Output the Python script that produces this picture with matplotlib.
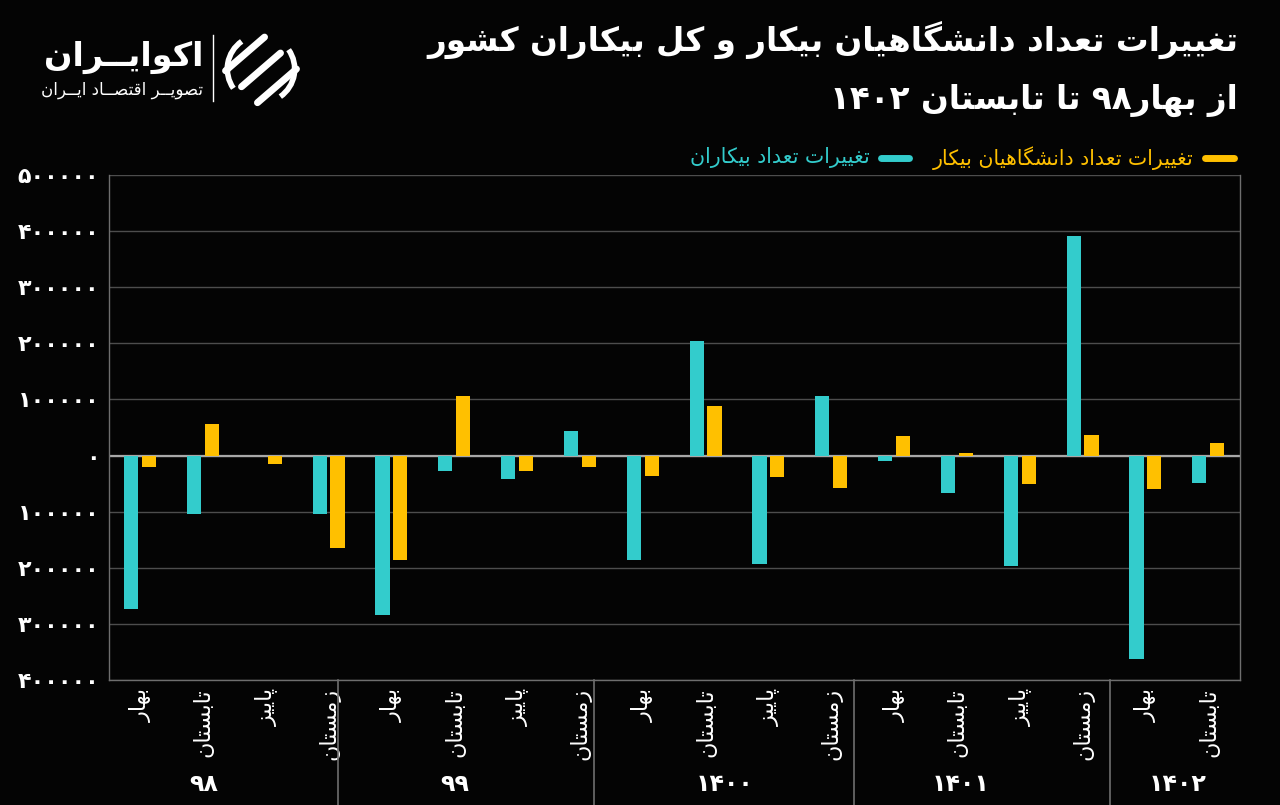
import matplotlib
matplotlib.use('Agg')
import matplotlib.pyplot as plt
from matplotlib.lines import Line2D
from matplotlib.ticker import FuncFormatter, MultipleLocator
from matplotlib.patches import Arc
import matplotlib.transforms as mtransforms
import numpy as np

# ---------------- data ----------------
seasons = ['بهار', 'تابستان', 'پاییز', 'زمستان'] * 4 + ['بهار', 'تابستان']
years = ['۹۸', '۹۹', '۱۴۰۰', '۱۴۰۱', '۱۴۰۲']
year_sizes = [4, 4, 4, 4, 2]
unemployed_change = [-273000, -105000, -1500, -104000, -284000, -28000, -42000, 43000,
                     -186000, 205000, -194000, 106000, -9500, -66000, -197000, 391000,
                     -363000, -49000]
graduates_change = [-20000, 57000, -15000, -164000, -186000, 107000, -28000, -20000,
                    -37000, 89000, -38000, -57000, 34000, 4000, -50000, 36000,
                    -59000, 23000]
title_line1 = 'تغییرات تعداد دانشگاهیان بیکار و کل بیکاران کشور'
title_line2 = 'از بهار۹۸ تا تابستان ۱۴۰۲'
label_graduates = 'تغییرات تعداد دانشگاهیان بیکار'
label_unemployed = 'تغییرات تعداد بیکاران'
brand = 'اکوایــران'
brand_sub = 'تصویــر اقتصــاد ایــران'

# ---------------- minimal Persian shaping ----------------
FORMS = {
    'ا': ('\uFE8D', '\uFE8E', None, None),
    'ب': ('\uFE8F', '\uFE90', '\uFE91', '\uFE92'),
    'پ': ('\uFB56', '\uFB57', '\uFB58', '\uFB59'),
    'ت': ('\uFE95', '\uFE96', '\uFE97', '\uFE98'),
    'د': ('\uFEA9', '\uFEAA', None, None),
    'ر': ('\uFEAD', '\uFEAE', None, None),
    'ز': ('\uFEAF', '\uFEB0', None, None),
    'س': ('\uFEB1', '\uFEB2', '\uFEB3', '\uFEB4'),
    'ش': ('\uFEB5', '\uFEB6', '\uFEB7', '\uFEB8'),
    'ص': ('\uFEB9', '\uFEBA', '\uFEBB', '\uFEBC'),
    'ع': ('\uFEC9', '\uFECA', '\uFECB', '\uFECC'),
    'غ': ('\uFECD', '\uFECE', '\uFECF', '\uFED0'),
    'ق': ('\uFED5', '\uFED6', '\uFED7', '\uFED8'),
    'ک': ('\uFB8E', '\uFB8F', '\uFB90', '\uFB91'),
    'گ': ('\uFB92', '\uFB93', '\uFB94', '\uFB95'),
    'ل': ('\uFEDD', '\uFEDE', '\uFEDF', '\uFEE0'),
    'م': ('\uFEE1', '\uFEE2', '\uFEE3', '\uFEE4'),
    'ن': ('\uFEE5', '\uFEE6', '\uFEE7', '\uFEE8'),
    'و': ('\uFEED', '\uFEEE', None, None),
    'ه': ('\uFEE9', '\uFEEA', '\uFEEB', '\uFEEC'),
    'ی': ('\uFBFC', '\uFBFD', '\uFBFE', '\uFBFF'),
}
TATWEEL = '\u0640'


def _arabic(ch):
    return ch == TATWEEL or ch in FORMS


def _dual(ch):
    return ch == TATWEEL or (ch in FORMS and FORMS[ch][2] is not None)


def shape(s):
    out = []
    for i, c in enumerate(s):
        if c not in FORMS:
            out.append(c)
            continue
        prev = s[i - 1] if i > 0 else None
        nxt = s[i + 1] if i + 1 < len(s) else None
        jp = prev is not None and _dual(prev)
        jn = nxt is not None and _arabic(nxt) and _dual(c)
        iso, fin, ini, med = FORMS[c]
        if jp and jn:
            out.append(med)
        elif jp:
            out.append(fin)
        elif jn:
            out.append(ini)
        else:
            out.append(iso)
    return ''.join(out)


def rtl(s):
    shaped = shape(s)
    runs = []
    for ch in shaped:
        d = ch.isdigit()
        if runs and runs[-1][0] == d:
            runs[-1][1].append(ch)
        else:
            runs.append([d, [ch]])
    out = ''
    for d, chs in reversed(runs):
        out += ''.join(chs) if d else ''.join(reversed(chs))
    return out


def fa_digits(n):
    return str(n).translate(str.maketrans('0123456789', '۰۱۲۳۴۵۶۷۸۹'))


# ---------------- style ----------------
BG = '#040404'
TEAL = '#33CCCC'
YELLOW = '#FFC000'
GRID = '#4d4d4d'
plt.rcParams['font.family'] = ['DejaVu Sans']

W, H = 1280, 805
fig = plt.figure(figsize=(W / 100, H / 100), dpi=100, facecolor=BG)


def px(x0, y0, x1, y1):
    return [x0 / W, 1 - y1 / H, (x1 - x0) / W, (y1 - y0) / H]


ax = fig.add_axes(px(109, 175, 1240, 680))
ax.set_facecolor(BG)

x = np.arange(len(seasons))
ax.bar(x - 0.148, unemployed_change, width=0.226, color=TEAL, zorder=3)
ax.bar(x + 0.137, graduates_change, width=0.226, color=YELLOW, zorder=3)

ax.set_xlim(-0.5, len(seasons) - 0.5)
ax.set_ylim(-400000, 500000)
ax.yaxis.set_major_locator(MultipleLocator(100000))
ax.yaxis.set_major_formatter(FuncFormatter(lambda v, p: fa_digits(int(abs(round(v))))))
ax.grid(axis='y', color=GRID, lw=1, zorder=0)
ax.axhline(0, color='#a8a8a8', lw=1.6, zorder=2)

ax.spines['top'].set_visible(False)
for side in ['left', 'right', 'bottom']:
    ax.spines[side].set_color('#6e6e6e')
    ax.spines[side].set_linewidth(1)

ax.tick_params(axis='y', length=0, pad=7, labelcolor='white', labelsize=16)
for t in ax.get_yticklabels():
    t.set_fontweight('bold')
ax.set_xticks(x)
ax.set_xticklabels([rtl(s) for s in seasons], rotation=90, color='white',
                   fontsize=16, va='top', ha='center')
ax.tick_params(axis='x', length=0, pad=6)

# group separators and year labels
trans = mtransforms.blended_transform_factory(ax.transData, ax.transAxes)
separator_pos = [3.14, 7.22, 11.35, 15.43]
year_label_pos = [1.0, 5.0, 9.3, 13.05, 16.5]
for yr, xp in zip(years, year_label_pos):
    ax.text(xp, -0.205, yr, transform=trans, ha='center', va='center',
            color='white', fontsize=17, fontweight='bold')
for sp in separator_pos:
    ax.add_line(Line2D([sp, sp], [0, -0.26], transform=trans,
                       color='#6e6e6e', lw=1.2, clip_on=False))

# title
fig.text(1238 / W, 1 - 40 / H, rtl(title_line1), ha='right', va='center',
         color='white', fontsize=23.5, fontweight='bold')
fig.text(1238 / W, 1 - 100 / H, rtl(title_line2), ha='right', va='center',
         color='white', fontsize=23.5, fontweight='bold')

# legend (drawn manually, right to left)
ly = 1 - 158 / H
fig.add_artist(Line2D([1205 / W, 1234 / W], [ly, ly], color=YELLOW, lw=5,
                      solid_capstyle='round'))
fig.text(1194 / W, ly, rtl(label_graduates), ha='right', va='center',
         color=YELLOW, fontsize=14.8)
fig.add_artist(Line2D([881 / W, 909 / W], [ly, ly], color=TEAL, lw=5,
                      solid_capstyle='round'))
fig.text(870 / W, ly, rtl(label_unemployed), ha='right', va='center',
         color=TEAL, fontsize=14.8)

# brand logo
fig.text(203 / W, 1 - 57 / H, rtl(brand), ha='right', va='center', color='white',
         fontsize=24, fontweight='bold')
fig.text(203 / W, 1 - 90 / H, rtl(brand_sub), ha='right', va='center', color='white',
         fontsize=12)
fig.add_artist(Line2D([213 / W, 213 / W], [1 - 35 / H, 1 - 101 / H], color='white', lw=1))
lax = fig.add_axes(px(222, 30, 300, 108))
lax.set_xlim(-1.1, 1.1)
lax.set_ylim(-1.1, 1.1)
lax.set_aspect('equal')
lax.axis('off')
lax.add_patch(Arc((0, 0), 1.9, 1.9, theta1=125, theta2=215, color='white', lw=4))
lax.add_patch(Arc((0, 0), 1.9, 1.9, theta1=305, theta2=35, color='white', lw=4))
for off in (-0.45, 0.0, 0.45):
    lax.add_line(Line2D([-0.55 + off, 0.55 + off], [-0.5 - off, 0.45 - off],
                        color='white', lw=5, solid_capstyle='round'))

fig.savefig('out.png', dpi=100, facecolor=BG)
